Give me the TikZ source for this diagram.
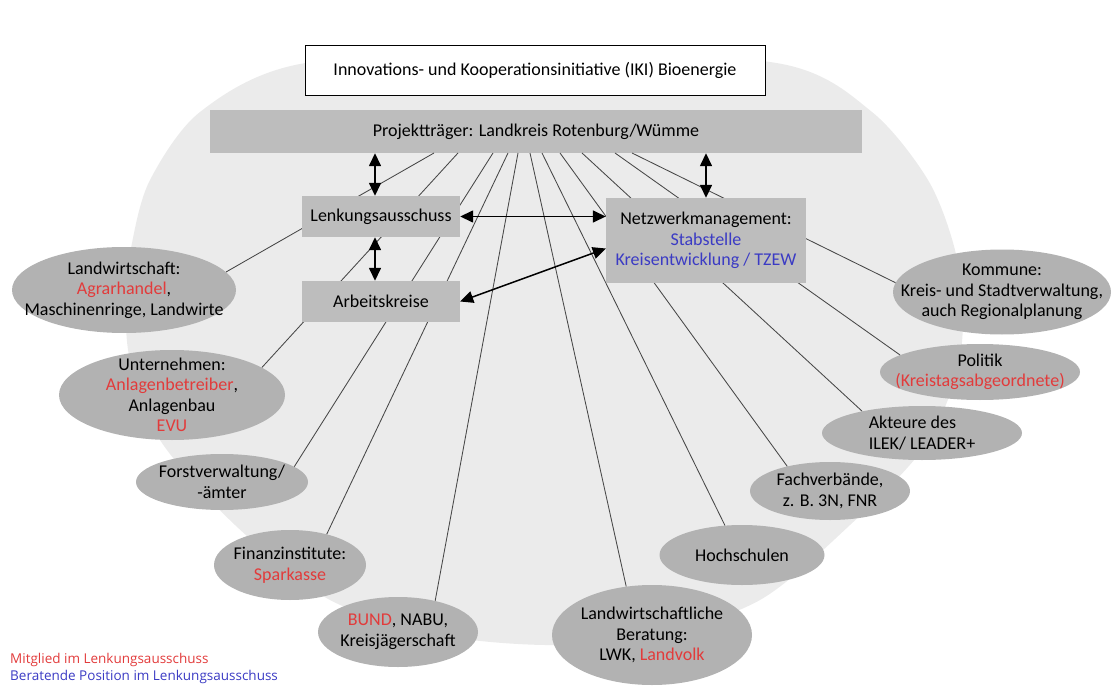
\documentclass[tikz,border=0pt]{standalone}
\usepackage{fontspec}
\setmainfont{Carlito}
\newfontfamily\keyfont{Open Sans}
\usetikzlibrary{positioning}
\usetikzlibrary{arrows.meta}
\usetikzlibrary{shapes.geometric}

\definecolor{bargray}{HTML}{BDBDBD}
\definecolor{ovalgray}{HTML}{B2B2B2}
\definecolor{fieldgray}{HTML}{EBEBEB}
\definecolor{memberred}{HTML}{E23B3B}
\definecolor{advisorblue}{HTML}{3B3BC4}

\newcommand\member[1]{\textcolor{memberred}{#1}}
\newcommand\advisor[1]{\textcolor{advisorblue}{#1}}

\begin{document}
\begin{tikzpicture}[x=1pt, y=-1pt,
    font=\fontsize{18}{20.5}\selectfont,
    panel/.style={fill=bargray, inner sep=0pt, align=center},
    oval/.style={ellipse, fill=ovalgray, inner xsep=-40pt, inner ysep=-20pt, align=center},
    spoke/.style={draw=black!72, line width=0.85pt},
    flow/.style={{Triangle[length=13pt,width=12pt]}-{Triangle[length=13pt,width=12pt]}, line width=1.5pt}]

    \useasboundingbox (0,0) rectangle (1113,687);

    % Background field
    \fill[fieldgray] plot[smooth cycle] coordinates {
        (300,64) (200,112) (150,180) (132,243) (126,300) (130,360) (160,440)
        (235,525) (330,600) (440,635) (545,645) (650,638) (760,600) (850,525)
        (922,450) (955,380) (963,320) (955,250) (928,180) (872,112) (782,64) (540,48)};

    % Actors
    \node[oval, minimum width=224pt, minimum height=86pt] (lw) at (124,290) {Landwirtschaft:\\ \member{Agrarhandel},\\ Maschinenringe, Landwirte};
    \node[oval, minimum width=226pt, minimum height=90pt] (un) at (172,395) {Unternehmen:\\ \member{Anlagenbetreiber},\\ Anlagenbau\\ \member{EVU}};
    \node[oval, minimum width=172pt, minimum height=56pt] (fo) at (222,482) {Forstverwaltung/\\ -ämter};
    \node[oval, minimum width=152pt, minimum height=70pt] (fi) at (290,565) {Finanzinstitute:\\ \member{Sparkasse}};
    \node[oval, minimum width=160pt, minimum height=70pt] (bu) at (398,632) {\member{BUND}, NABU,\\ Kreisjägerschaft};
    \node[oval, minimum width=200pt, minimum height=100pt] (lb) at (652,635) {Landwirtschaftliche\\ Beratung:\\ LWK, \member{Landvolk}};
    \node[oval, minimum width=165pt, minimum height=60pt] (ho) at (742,555) {Hochschulen};
    \node[oval, minimum width=160pt, minimum height=58pt] (fa) at (830,491) {Fachverbände,\\ z. B. 3N, FNR};
    \node[oval, minimum width=200pt, minimum height=54pt, align=left] (ilek) at (922,433) {Akteure des\\ ILEK/ LEADER+};
    \node[oval, minimum width=200pt, minimum height=56pt] (po) at (980,372) {Politik\\ \member{(Kreistagsabgeordnete)}};
    \node[oval, minimum width=218pt, minimum height=85pt] (ko) at (1002,292) {Kommune:\\ Kreis- und Stadtverwaltung,\\ auch Regionalplanung};

    % Project board
    \node[panel, minimum width=652pt, minimum height=43pt] (pt) at (536,131.5) {Projektträger: Landkreis Rotenburg/Wümme};

    % Spokes from the board to the actors
    \foreach \name/\x/\ang in {lw/434/10, un/458/17, fo/493/12, fi/508/40, bu/518/40, lb/530/118,
                               ho/542/120, fa/560/150, ilek/582/160, po/615/168, ko/632/175} {
        \coordinate (\name-top) at (\x,153);
        \draw[spoke] (\name-top) -- (\name.\ang);
    }

    % Title and steering boxes
    \node[draw, fill=white, line width=0.8pt, minimum width=460pt, minimum height=50pt] (iki) at (535,70) {Innovations- und Kooperationsinitiative (IKI) Bioenergie};
    \node[panel, minimum width=158pt, minimum height=41pt] (lenk) at (381,216.5) {Lenkungsausschuss};
    \node[panel, minimum width=158pt, minimum height=41pt] (ark) at (381,301.5) {Arbeitskreise};
    \node[panel, minimum width=200pt, minimum height=85pt] (nm) at (706,240.5) {Netzwerkmanagement:\\ \advisor{Stabstelle}\\ \advisor{Kreisentwicklung / TZEW}};

    % Arrows
    \draw[flow] ([xshift=-6pt]pt.south -| lenk.north) -- ([xshift=-6pt]lenk.north);
    \draw[flow] ([xshift=-6pt]lenk.south) -- ([xshift=-6pt]ark.north);
    \draw[flow] (pt.south -| nm.north) -- (nm.north);
    \draw[flow] (lenk.east) -- (nm.west |- lenk.east);
    \draw[flow] (ark.east) -- ([yshift=-8pt]nm.west);

    % Key
    \node[anchor=west, inner sep=0pt, font=\keyfont\fontsize{13.5}{16}\selectfont, text=memberred] (key-member) at (10,660) {Mitglied im Lenkungsausschuss};
    \node[anchor=west, inner sep=0pt, font=\keyfont\fontsize{13.5}{16}\selectfont, text=advisorblue] (key-advisor) at (10,677) {Beratende Position im Lenkungsausschuss};
\end{tikzpicture}
\end{document}
